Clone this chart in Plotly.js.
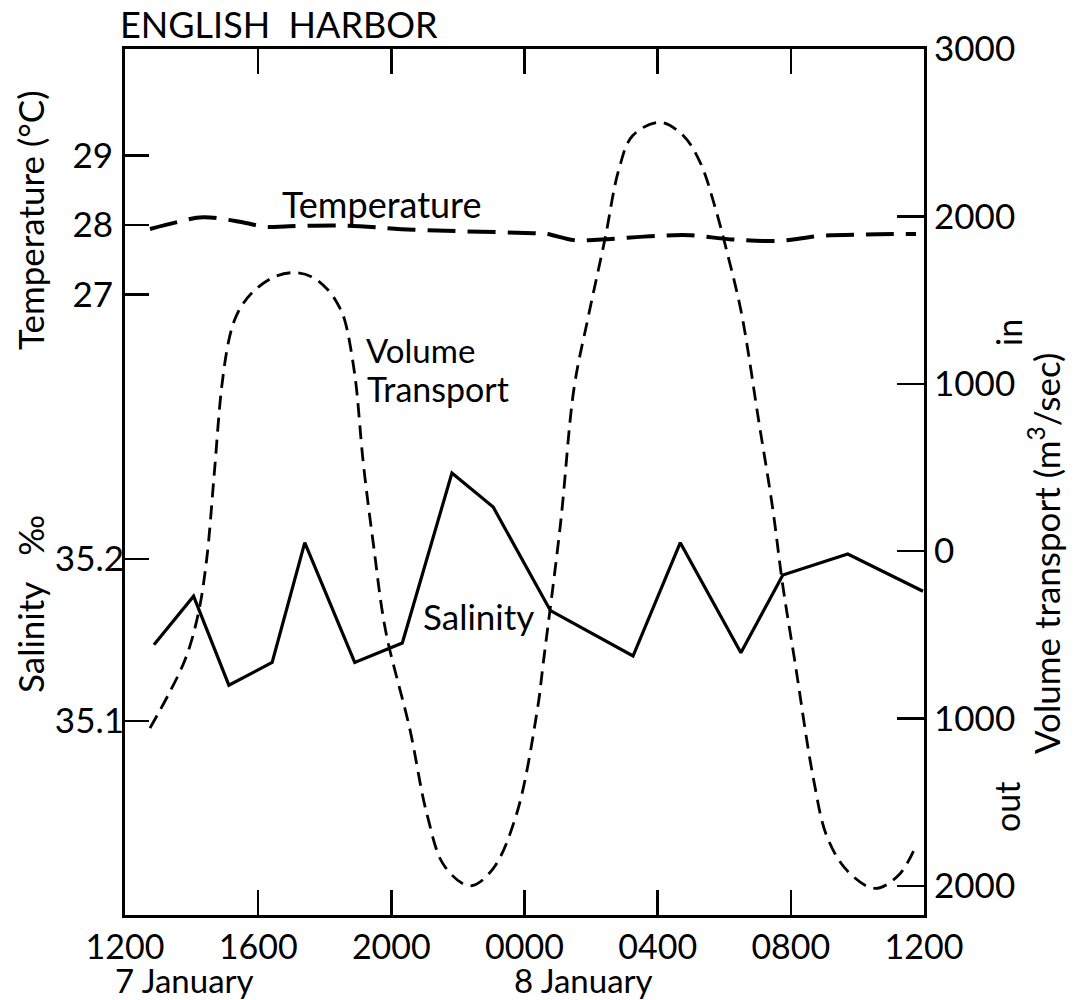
<!DOCTYPE html>
<html><head><meta charset="utf-8">
<script src="https://cdn.plot.ly/plotly-3.0.1.min.js"></script>
<style>body{margin:0;background:#fff}</style>
</head><body><div id="chart" style="width:1076px;height:1000px"></div>
<script>
// x values are clock hours counted from 0000 on 7 January (12 = 1200 7 Jan, 36 = 1200 8 Jan)
const xTickVals = [12, 16, 20, 24, 28, 32, 36];
const xTickText = ['1200', '1600', '2000', '0000', '0400', '0800', '1200'];

const tempHour = [12.75, 13.57, 14.35, 15.59, 16.21, 16.93, 18.59, 20.66, 24.28, 24.67, 25.49, 26.31, 27.96, 28.98, 30.22, 31.65, 32.89, 34.22, 35.76];
const tempC    = [27.94, 28.04, 28.11, 28.03, 27.97, 27.98, 27.99, 27.93, 27.88, 27.87, 27.78, 27.79, 27.84, 27.85, 27.79, 27.77, 27.84, 27.86, 27.87];

const volHour = [12.75, 13.78, 14.19, 14.45, 14.68, 14.90, 15.12, 15.30, 15.55, 15.90, 16.50, 17.04, 17.60, 18.10, 18.38, 18.59, 18.90, 19.16, 19.47, 19.83,
                 20.55, 21.07, 21.59, 22.36, 23.04, 23.76, 24.38, 24.57, 25.08, 25.49, 25.90, 26.42, 26.83, 27.24, 28.06, 28.78,
                 29.29, 29.70, 30.11, 30.52, 31.04, 31.45, 31.76, 32.12, 32.68, 33.09, 33.71, 34.53, 35.25, 35.76];
const volume  = [-1057, -660, -383, -54, 460, 974, 1262, 1386, 1480, 1560, 1640, 1664, 1640, 1560, 1480, 1386, 1057, 522, 28, -476,
                 -1057, -1571, -1879, -1999, -1900, -1571, -954, -657, 161, 977, 1386, 1868, 2277, 2480, 2562, 2480,
                 2317, 2072, 1766, 1419, 773, 263, -207, -657, -1360, -1707, -1912, -2014, -1932, -1758];

const salHour  = [12.87, 14.06, 15.12, 16.42, 17.40, 18.90, 20.33, 21.82, 23.06, 24.78, 27.26, 28.68, 30.50, 31.76, 33.71, 35.97];
const salinity = [35.147, 35.177, 35.122, 35.136, 35.210, 35.136, 35.148, 35.253, 35.232, 35.168, 35.140, 35.210, 35.142, 35.190, 35.203, 35.180];

const tempTicks = [27, 28, 29];
const salTicks = [35.1, 35.2];
const salTickText = ['35.1', '35.2'];
const volTicks = [-2000, -1000, 0, 1000, 2000, 3000];
const volTickText = ['2000', '1000', '0', '1000', '2000', '3000'];

const FONT = 'Lato, "Open Sans", sans-serif';
const L = 125, R = 924, T = 49, B = 915;
const px = X => (X - L) / (R - L);
const py = Y => (B - Y) / (B - T);

const traces = [
  {x: tempHour, y: tempC, yaxis: 'y', type: 'scatter', mode: 'lines',
   line: {color: '#000', width: 4, dash: '28px,12px', shape: 'spline', smoothing: 1}},
  {x: volHour, y: volume, yaxis: 'y2', type: 'scatter', mode: 'lines',
   line: {color: '#000', width: 2.8, dash: '14px,8px', shape: 'spline', smoothing: 1}},
  {x: salHour, y: salinity, yaxis: 'y3', type: 'scatter', mode: 'lines',
   line: {color: '#000', width: 3.2}}
];

function ann(text, X, Y, size, opts) {
  return Object.assign({text: text, xref: 'paper', yref: 'paper', x: px(X), y: py(Y),
    xanchor: 'center', yanchor: 'middle', showarrow: false, font: {family: FONT, size: size, color: '#000'}}, opts || {});
}

const axisCommon = {showgrid: false, zeroline: false, color: '#000', tickcolor: '#000', linecolor: '#000',
  tickfont: {family: FONT, size: 35, color: '#000'}};

const layout = {
  width: 1076, height: 1000,
  margin: {l: L, r: 1076 - R, t: T, b: 1000 - B, pad: 0},
  paper_bgcolor: '#fff', plot_bgcolor: '#fff',
  showlegend: false,
  font: {family: FONT, color: '#000', size: 34},
  xaxis: Object.assign({}, axisCommon, {range: [12, 36], tickvals: xTickVals, ticktext: xTickText,
    ticks: 'inside', ticklen: 25, tickwidth: 2.5, showline: true, linewidth: 3, mirror: 'ticks', ticklabelstandoff: 0,
    tickfont: {family: FONT, size: 34, color: '#000'}}),
  yaxis: Object.assign({}, axisCommon, {range: [18.07, 30.53], tickvals: tempTicks, ticks: 'inside', ticklen: 24,
    tickwidth: 2.5, showline: true, linewidth: 3, side: 'left', ticklabelstandoff: 2}),
  yaxis3: Object.assign({}, axisCommon, {range: [34.980, 35.515], tickvals: salTicks, ticktext: salTickText,
    ticks: 'inside', ticklen: 24, tickwidth: 2.5, showline: false, overlaying: 'y', side: 'left', anchor: 'x', ticklabelstandoff: 0}),
  yaxis2: Object.assign({}, axisCommon, {range: [-2173, 3000], tickvals: volTicks, ticktext: volTickText,
    ticks: 'inside', ticklen: 27, tickwidth: 2.5, showline: true, linewidth: 3, overlaying: 'y', side: 'right', anchor: 'x', ticklabelstandoff: 0}),
  annotations: [
    ann('ENGLISH\u00a0\u00a0HARBOR', 118, 24, 36, {xanchor: 'left'}),
    ann('7 January', 184, 980, 33),
    ann('8 January', 583, 980, 33),
    ann('Temperature', 382, 204, 36),
    ann('Volume', 364, 350, 33, {xanchor: 'left'}),
    ann('Transport', 365, 388, 34, {xanchor: 'left'}),
    ann('Salinity', 478, 616, 35),
    ann('Temperature (°C)', 30, 220, 35, {textangle: -90}),
    ann('Salinity\u00a0\u00a0\u00a0‰', 30, 604, 35, {textangle: -90}),
    ann('Volume transport (m<sup>3</sup>/sec)', 1044, 554, 35, {textangle: -90}),
    ann('in', 1008, 333, 34, {textangle: -90}),
    ann('out', 1006, 807, 34, {textangle: -90})
  ]
};

Plotly.newPlot('chart', traces, layout, {staticPlot: true, displayModeBar: false});
</script>
</body></html>
